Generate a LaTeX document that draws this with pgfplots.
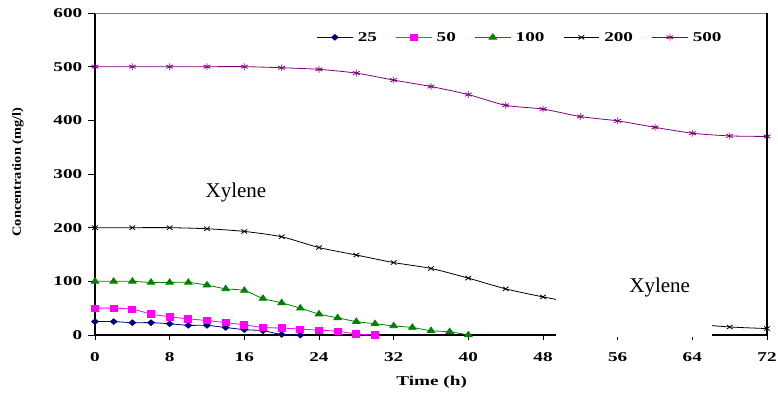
\documentclass[border=0pt]{standalone}
\usepackage{fontspec}
\setmainfont{Liberation Serif}
\newfontfamily\wideb[FakeStretch=1.42]{Liberation Serif}
\newfontfamily\ylabfont[FakeStretch=1.15]{Liberation Serif}
\usepackage{pgfplots}
\pgfplotsset{compat=1.18}
\definecolor{cnavy}{HTML}{000080}
\definecolor{cmag}{HTML}{FF00FF}
\definecolor{cgreen}{HTML}{008000}
\definecolor{cpurp}{HTML}{800080}
\begin{document}
\begin{tikzpicture}
\begin{axis}[
  at={(0,0)}, anchor=south west,
  scale only axis, width=672pt, height=322pt,
  xmin=0, xmax=72, ymin=0, ymax=600,
  xtick={0,8,...,72}, ytick={0,100,...,600},
  axis x line*=bottom, axis y line*=left,
  x axis line style={line width=1.4pt, -},
  y axis line style={line width=1.6pt, -},
  tick align=outside,
  xtick style={black, line width=0.8pt, /pgfplots/major tick length=5pt},
  ytick style={black, line width=0.8pt, /pgfplots/major tick length=6.5pt},
  /pgf/number format/assume math mode=true,
  ticklabel style={font=\wideb\bfseries\fontsize{13.5}{15}\selectfont},
  xticklabel style={yshift=-10pt},
  yticklabel style={xshift=-5pt},
  xlabel={Time (h)},
  ylabel={Concentration (mg/l)},
  xlabel style={font=\wideb\bfseries\fontsize{13.5}{15}\selectfont, at={(axis description cs:0.501,0)}, anchor=center, yshift=-47pt},
  ylabel style={font=\ylabfont\bfseries\fontsize{12.5}{14}\selectfont, at={(axis description cs:-0.1146,0.506)}, anchor=center},
  clip=false,
  every axis plot/.append style={line width=0.8pt, smooth, tension=0.45},
  legend columns=-1,
  legend style={draw=none, fill=none, inner sep=0pt,
    at={(0.33,0.9245)}, anchor=west,
    nodes={inner xsep=0pt, inner ysep=0pt, font=\wideb\bfseries\fontsize{13.5}{15}\selectfont},
    /tikz/every odd column/.append style={column sep=5pt},
    /tikz/every even column/.append style={column sep=19pt}},
  legend image code/.code={\draw[mark repeat=2, mark phase=2] plot coordinates {(0pt,0pt) (17.5pt,0pt) (35pt,0pt)};},
]
\addplot[cnavy, mark=diamond*, mark size=2.8pt, mark options={xscale=1.6, solid}] coordinates {
(0,25) (2,25) (4,23) (6,23) (8,21) (10,18) (12,18) (14,14) (16,10) (18,8) (20,1) (22,0)};
\addlegendentry{25}
\addplot[cmag, mark=square*, mark size=3.2pt, mark options={xscale=1.1, solid}] coordinates {
(0,50) (2,50) (4,48) (6,39) (8,34) (10,30) (12,27) (14,23) (16,19) (18,14) (20,13) (22,11) (24,9) (26,7) (28,2) (30,0)};
\addlegendentry{50}
\addplot[cgreen, mark=triangle*, mark size=3.6pt, mark options={xscale=1.2, solid}] coordinates {
(0,100) (2,100) (4,100) (6,98) (8,98) (10,98) (12,93) (14,86) (16,83) (18,68) (20,60) (22,50) (24,39) (26,32) (28,25) (30,21) (32,17) (34,14) (36,8) (38,6) (40,0)};
\addlegendentry{100}
\addplot[black, mark=x, mark size=3pt, mark options={xscale=1.35, solid}] coordinates {
(0,200) (4,200) (8,200) (12,198) (16,193) (20,183) (24,163) (28,149) (32,135) (36,124) (40,106) (44,86) (48,71) (52,58) (56,45) (60,32) (64,21) (68,15) (72,12)};
\addlegendentry{200}
\addplot[cpurp, mark=asterisk, mark size=3.4pt, mark options={xscale=1.15, solid}] coordinates {
(0,500) (4,500) (8,500) (12,500) (16,500) (20,498) (24,495) (28,488) (32,475) (36,463) (40,448) (44,428) (48,421) (52,407) (56,399) (60,387) (64,376) (68,371) (72,370)};
\addlegendentry{500}
\coordinate (boxA) at (axis cs:49.4,0);
\coordinate (boxB) at (axis cs:66.1,85);
\coordinate (xyl1) at (axis cs:15.1,266);
\coordinate (xyl2) at (axis cs:60.5,88);
\coordinate (TL) at (rel axis cs:0,1);
\coordinate (TR) at (rel axis cs:1,1);
\coordinate (BR) at (rel axis cs:1,0);
\end{axis}
\draw[gray, line width=0.8pt] (TL) -- (TR);
\draw[black, line width=1.2pt] (BR) -- (TR);
\fill[white] ([yshift=-1.6pt]boxA) rectangle (boxB);
\node[font=\fontsize{21}{23}\selectfont] at (xyl1) {Xylene};
\node[font=\fontsize{21}{23}\selectfont] at (xyl2) {Xylene};
\pgfresetboundingbox
\path (-95pt,-57pt) rectangle (683pt,335pt);
\end{tikzpicture}
\end{document}
